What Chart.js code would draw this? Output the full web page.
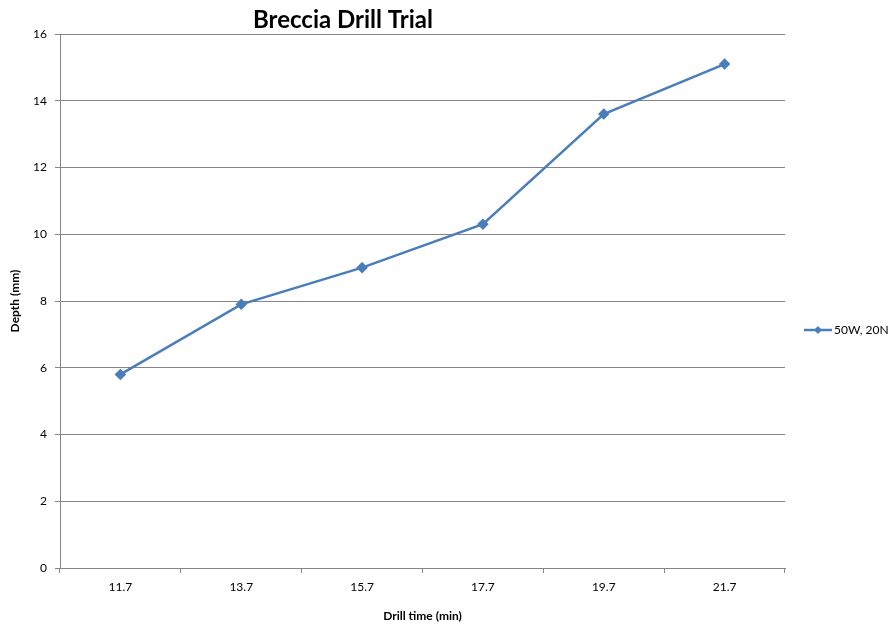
<!DOCTYPE html>
<html><head><meta charset="utf-8">
<script src="https://cdn.jsdelivr.net/npm/chart.js@4"></script>
<style>html,body{margin:0;padding:0;background:#fff}#wrap{width:892px;height:627px}</style>
</head><body><div id="wrap"><canvas id="c" width="892" height="627"></canvas></div>
<script>
const categories = ['11.7','13.7','15.7','17.7','19.7','21.7'];
const depth = [5.8, 7.9, 9.0, 10.3, 13.6, 15.1];
const seriesName = '50W, 20N';
const chartTitle = 'Breccia Drill Trial';
const xTitle = 'Drill time (min)';
const yTitle = 'Depth (mm)';

const FONT = 'Lato, "Open Sans", sans-serif';
const GRID = '#868686';
const BLUE = '#4A7EBB';

const extras = {
  id: 'extras',
  afterDraw(chart) {
    const ctx = chart.ctx;
    ctx.save();
    ctx.fillStyle = '#000';
    ctx.font = 'bold 24px ' + FONT;
    ctx.textAlign = 'center';
    ctx.textBaseline = 'middle';
    ctx.fillText(chartTitle, 343, 20);
    // legend
    const ly = 330;
    ctx.strokeStyle = BLUE; ctx.lineWidth = 2.5;
    ctx.beginPath(); ctx.moveTo(804, ly); ctx.lineTo(832, ly); ctx.stroke();
    ctx.fillStyle = BLUE;
    ctx.beginPath(); ctx.moveTo(818, ly-4); ctx.lineTo(822, ly); ctx.lineTo(818, ly+4); ctx.lineTo(814, ly); ctx.closePath(); ctx.fill();
    ctx.fillStyle = '#000';
    ctx.font = '12px ' + FONT;
    ctx.textAlign = 'left';
    ctx.fillText(seriesName, 834, ly);
    ctx.restore();
  }
};

new Chart(document.getElementById('c'), {
  type: 'line',
  data: { labels: categories, datasets: [{
    label: seriesName, data: depth,
    borderColor: BLUE, backgroundColor: BLUE, borderWidth: 2.5,
    pointStyle: 'rectRot', pointRadius: 4, pointHoverRadius: 4,
    tension: 0, fill: false
  }]},
  options: {
    responsive: false, animation: false, devicePixelRatio: 1,
    layout: { padding: { top: 34, right: 107, left: 0, bottom: 0 } },
    plugins: { legend: { display: false }, title: { display: false }, tooltip: { enabled: false } },
    scales: {
      x: {
        offset: true,
        grid: { offset: true, drawOnChartArea: false, color: GRID, tickLength: 5, tickColor: GRID },
        border: { color: GRID, width: 1 },
        ticks: { color: '#000', font: { family: FONT, size: 12 }, padding: 7, maxRotation: 0 },
        title: { display: true, text: xTitle, color: '#000', font: { family: FONT, size: 12, weight: 'bold' }, padding: { top: 0, bottom: 4 } },
        afterFit(s) { s.height = 59; }
      },
      y: {
        min: 0, max: 16,
        grid: { color: GRID, tickLength: 5, tickColor: GRID },
        border: { color: GRID, width: 1 },
        ticks: { stepSize: 2, color: '#000', font: { family: FONT, size: 12 }, padding: 8 },
        title: { display: true, text: yTitle, color: '#000', font: { family: FONT, size: 12, weight: 'bold' }, padding: { top: 8, bottom: 0 } },
        afterFit(s) { s.width = 60; }
      }
    }
  },
  plugins: [extras]
});
</script></body></html>
